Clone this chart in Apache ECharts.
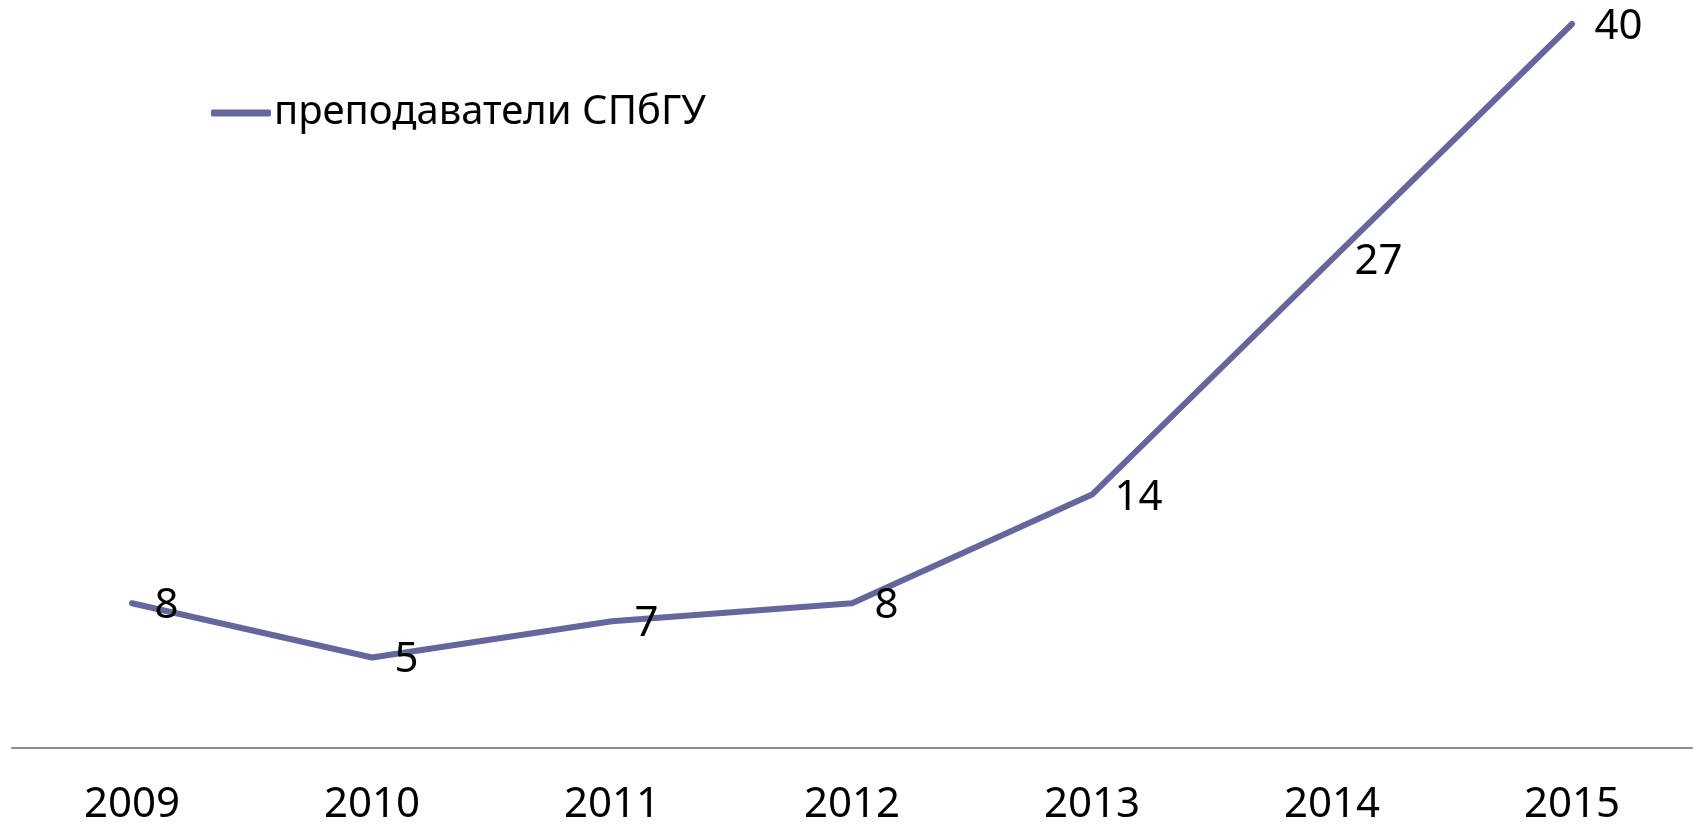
<!DOCTYPE html>
<html>
<head>
<meta charset="utf-8">
<script src="https://cdn.jsdelivr.net/npm/echarts@6/dist/echarts.min.js"></script>
<style>
  html, body { margin: 0; padding: 0; background: #fff; }
  #chart { width: 1696px; height: 829px; }
</style>
</head>
<body>
<div id="chart"></div>
<script>
// годы и число преподавателей
const years = ["2009", "2010", "2011", "2012", "2013", "2014", "2015"];
const teachers = [8, 5, 7, 8, 14, 27, 40];
const seriesName = "преподаватели СПбГУ";

const chart = echarts.init(document.getElementById("chart"));

const option = {
  animation: false,
  textStyle: { fontFamily: "Noto Sans" },
  grid: { left: 12, right: 4, top: 24, bottom: 81 },
  legend: {
    left: 206,
    top: 88,
    icon: "roundRect",
    itemWidth: 60,
    itemHeight: 7,
    itemGap: 4,
    itemStyle: { color: "#65679c" },
    textStyle: { fontSize: 40, color: "#000", fontFamily: "Noto Sans", padding: [0, 0, 0, -2] },
    data: [seriesName]
  },
  xAxis: {
    type: "category",
    data: years,
    boundaryGap: true,
    axisLine: { lineStyle: { color: "#8c8c8c", width: 2 } },
    axisTick: { show: false },
    axisLabel: { fontSize: 42, color: "#000", margin: 36, fontFamily: "Noto Sans" }
  },
  yAxis: {
    type: "value",
    min: 0,
    max: 40,
    show: false,
    splitLine: { show: false }
  },
  series: [
    {
      name: seriesName,
      type: "line",
      data: teachers,
      symbol: "circle",
      symbolSize: 1,
      showSymbol: true,
      lineStyle: { color: "#65679c", width: 6, cap: "round", join: "round" },
      itemStyle: { color: "#65679c" },
      label: {
        show: true,
        position: "right",
        distance: 22,
        offset: [0, 3],
        fontSize: 42,
        color: "#000",
        fontFamily: "Noto Sans"
      }
    }
  ]
};

chart.setOption(option);
</script>
</body>
</html>
